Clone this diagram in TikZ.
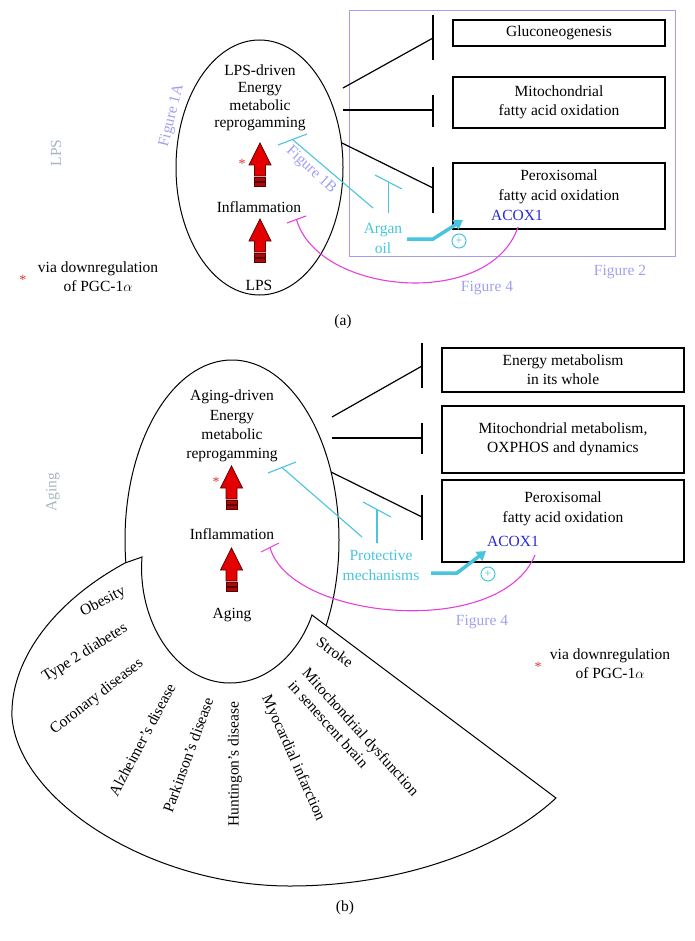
\documentclass[tikz,border=0pt]{standalone}
\usepackage{fontspec}
\setmainfont{Liberation Serif}
\usetikzlibrary{shapes.geometric,arrows.meta}
\definecolor{lav}{RGB}{160,160,238}
\definecolor{cyanc}{RGB}{72,196,222}
\definecolor{magc}{RGB}{228,64,222}
\definecolor{sideg}{RGB}{165,182,192}
\definecolor{acoxb}{RGB}{40,40,215}
\definecolor{arrred}{RGB}{228,0,0}
\definecolor{arrdark}{RGB}{90,0,0}
\definecolor{strred}{RGB}{170,10,10}
\definecolor{astred}{RGB}{225,50,50}
\tikzset{
 redarrow/.pic={
  \filldraw[fill=arrred, draw=arrdark, line width=0.7pt, line join=miter]
   (0,0) -- (11,22) -- (5.5,22) -- (5.5,33) -- (-5.5,33) -- (-5.5,22) -- (-11,22) -- cycle;
  \filldraw[fill=strred, draw=arrdark, line width=0.7pt] (-5.5,34.5) rectangle (5.5,38);
  \filldraw[fill=strred, draw=arrdark, line width=0.7pt] (-5.5,39.5) rectangle (5.5,43);
 }
}
\begin{document}
\begin{tikzpicture}[x=1pt,y=-1pt,
 txt/.style={font=\fontsize{15.5}{18}\selectfont, inner sep=0, align=center},
 boxn/.style={draw, line width=1.1pt, inner sep=0, align=center, font=\fontsize{15.5}{19}\selectfont},
 conn/.style={line width=1.2pt},
 barl/.style={line width=1.4pt},
 cyl/.style={cyanc, line width=1.1pt},
 magl/.style={magc, line width=1.1pt},
 thick arrow/.style={cyanc, line width=3.5pt, -{Triangle[length=9pt,width=11pt]}},
 plusc/.style={circle, draw=cyanc, line width=1pt, inner sep=0, minimum size=14pt, text=cyanc, font=\fontsize{12}{12}\selectfont},
 ast/.style={txt, text=astred, font=\fontsize{14}{14}\selectfont}
]
\useasboundingbox (0,0) rectangle (695,941);

% ================= PANEL (a) =================
\node[draw=lav, line width=1pt, minimum width=326pt, minimum height=245pt, inner sep=0] (frame2) at (512,133.5) {};

\node[draw, ellipse, line width=1pt, minimum width=167pt, minimum height=255pt, inner sep=0] (ellA) at (259.5,167.5) {};

\node[txt, font=\fontsize{15.5}{17.5}\selectfont] (lpsdrv) at (260,98) {LPS-driven\\Energy\\metabolic\\reprogamming};
\node[txt] (inflA) at (259,207) {Inflammation};
\node[txt] (lpsA) at (259,285) {LPS};
\pic (arA1) at (260,143) {redarrow};
\pic (arA2) at (260,219) {redarrow};
\node[ast] (astA1) at (242,164) {*};
\node[txt, text=lav, rotate=76] (fig1a) at (172,116) {Figure 1A};
\node[txt, text=lav, rotate=-43] (fig1b) at (311,170) {Figure 1B};
\node[txt, text=sideg, rotate=90] (lpsside) at (56,153) {LPS};
\node[txt, font=\fontsize{15.5}{19}\selectfont] (viaA) at (98,277) {via downregulation\\of PGC-1$\alpha$};
\node[ast] (astA2) at (23,280) {*};

% boxes
\node[boxn, minimum width=212pt, minimum height=26pt] (gluco) at (559,33) {Gluconeogenesis};
\node[boxn, minimum width=212pt, minimum height=51pt] (mitoA) at (559,102.5) {Mitochondrial\\fatty acid oxidation};
\node[boxn, minimum width=212pt, minimum height=66pt] (peroxA) at (559,196) {};
\node[txt, font=\fontsize{15.5}{20}\selectfont] (peroxAt) at (559,187) {Peroxisomal\\fatty acid oxidation};
\node[txt, text=acoxb] (acoxA) at (517,215) {ACOX1};

% inhibitors (black)
\coordinate (sA1) at (343,88);  \coordinate (mA1) at (433,38);
\coordinate (tA1) at (433,15);  \coordinate (uA1) at (433,60);
\coordinate (sA2) at (343,110); \coordinate (mA2) at (433,110);
\coordinate (tA2) at (433,95);  \coordinate (uA2) at (433,127);
\coordinate (sA3) at (342,143); \coordinate (mA3) at (433,188);
\coordinate (tA3) at (433,167); \coordinate (uA3) at (433,213);
\draw[conn] (sA1) -- (mA1); \draw[barl] (tA1) -- (uA1);
\draw[conn] (sA2) -- (mA2); \draw[barl] (tA2) -- (uA2);
\draw[conn] (sA3) -- (mA3); \draw[barl] (tA3) -- (uA3);

% cyan inhibitors
\coordinate (cbA1) at (278,145); \coordinate (cbA2) at (307,134);
\coordinate (cmA) at (292.5,139.5); \coordinate (ceA) at (373,208);
\draw[cyl] (cbA1) -- (cbA2);
\draw[cyl] (cmA) -- (ceA);
\coordinate (cdA1) at (375,175); \coordinate (cdA2) at (402,189);
\coordinate (cdmA) at (388.5,182); \coordinate (cdeA) at (388.5,213);
\draw[cyl] (cdA1) -- (cdA2);
\draw[cyl] (cdmA) -- (cdeA);
\node[txt, text=cyanc, font=\fontsize{15.5}{20}\selectfont] (argan) at (383,238) {Argan\\oil};

% thick cyan arrow
\coordinate (taA1) at (407,239); \coordinate (taA2) at (433,239); \coordinate (taA3) at (463,220);
\draw[thick arrow] (taA1) -- (taA2) -- (taA3);
\node[plusc] (plusA) at (459,241) {+};

% magenta inhibitor
\coordinate (mbA1) at (287,223); \coordinate (mbA2) at (306,216);
\coordinate (msA) at (296.5,219.5); \coordinate (meA) at (518,227);
\draw[magl] (mbA1) -- (mbA2);
\draw[magl] (msA) .. controls (318,295) and (490,310) .. (meA);

\node[txt, text=lav] (fig2) at (620,272) {Figure 2};
\node[txt, text=lav] (fig4a) at (487,288) {Figure 4};
\node[txt] (labA) at (343,322) {(a)};

% ================= PANEL (b) =================
\node[draw, ellipse, line width=1pt, minimum width=214pt, minimum height=360pt, inner sep=0] (ellB) at (232,540) {};

% sector of diseases
\draw[fill=white, line width=1pt, line join=miter] (125,563) .. controls (48,605) and (10,665) .. (12,717)
  .. controls (18,800) and (150,886) .. (290,886)
  .. controls (400,886) and (500,850) .. (556,798)
  -- (312,615) .. controls (300,650) and (270,683) .. (230,683)
  .. controls (175,683) and (137,620) .. (142,557) -- cycle;

\node[txt, rotate=27] (obes) at (103,602) {Obesity};
\node[txt, rotate=32] (t2d) at (85,653) {Type 2 diabetes};
\node[txt, rotate=38] (coro) at (97,697) {Coronary diseases};
\node[txt, rotate=62] (alz) at (142,740) {Alzheimer's disease};
\node[txt, rotate=70] (park) at (188,755) {Parkinson's disease};
\node[txt, rotate=90] (hunt) at (235,764) {Huntingon's disease};
\node[txt, rotate=-66] (myo) at (293,758) {Myocardial infarction};
\node[txt, rotate=-48, align=left, font=\fontsize{15.5}{19}\selectfont] (mitodys) at (354,738) {Mitochondrial dysfunction\\in senescent brain};
\node[txt, rotate=-35] (stroke) at (335,652) {Stroke};

\node[txt, font=\fontsize{15.5}{19.3}\selectfont] (agedrv) at (232,426) {Aging-driven\\Energy\\metabolic\\reprogamming};
\node[txt] (inflB) at (232,534) {Inflammation};
\node[txt] (agingB) at (232,615) {Aging};
\pic (arB1) at (231.5,466) {redarrow};
\pic (arB2) at (231.5,548) {redarrow};
\node[ast] (astB1) at (216,482) {*};
\node[txt, text=sideg, rotate=90] (agingside) at (53,492) {Aging};

% boxes
\node[boxn, minimum width=242pt, minimum height=44pt] (energyB) at (563,370) {Energy metabolism\\in its whole};
\node[boxn, minimum width=242pt, minimum height=67pt] (mitoB) at (563,439.5) {Mitochondrial metabolism,\\OXPHOS and dynamics};
\node[boxn, minimum width=242pt, minimum height=82pt] (peroxB) at (563,521) {};
\node[txt, font=\fontsize{15.5}{19.5}\selectfont] (peroxBt) at (563,509) {Peroxisomal\\fatty acid oxidation};
\node[txt, text=acoxb] (acoxB) at (513,541) {ACOX1};

% inhibitors (black)
\coordinate (sB1) at (332,417); \coordinate (mB1) at (422,366);
\coordinate (tB1) at (422,343); \coordinate (uB1) at (422,388);
\coordinate (sB2) at (332,438); \coordinate (mB2) at (422,438);
\coordinate (tB2) at (422,423); \coordinate (uB2) at (422,454);
\coordinate (sB3) at (331,472); \coordinate (mB3) at (422,517);
\coordinate (tB3) at (422,495); \coordinate (uB3) at (422,540);
\draw[conn] (sB1) -- (mB1); \draw[barl] (tB1) -- (uB1);
\draw[conn] (sB2) -- (mB2); \draw[barl] (tB2) -- (uB2);
\draw[conn] (sB3) -- (mB3); \draw[barl] (tB3) -- (uB3);

% cyan inhibitors
\coordinate (cbB1) at (268,473); \coordinate (cbB2) at (296,462);
\coordinate (cmB) at (282,467.5); \coordinate (ceB) at (362,537);
\draw[cyl] (cbB1) -- (cbB2);
\draw[cyl] (cmB) -- (ceB);
\coordinate (cdB1) at (363,502); \coordinate (cdB2) at (391,517);
\coordinate (cdmB) at (377,509.5); \coordinate (cdeB) at (377,543);
\draw[cyl] (cdB1) -- (cdB2);
\draw[cyl] (cdmB) -- (cdeB);
\node[txt, text=cyanc, font=\fontsize{15.5}{20}\selectfont] (protect) at (381,565) {Protective\\mechanisms};

% thick cyan arrow
\coordinate (taB1) at (431,573); \coordinate (taB2) at (457,573); \coordinate (taB3) at (486,551);
\draw[thick arrow] (taB1) -- (taB2) -- (taB3);
\node[plusc] (plusB) at (488,574) {+};

% magenta inhibitor
\coordinate (mbB1) at (261,552); \coordinate (mbB2) at (279,543);
\coordinate (msB) at (270,547.5); \coordinate (meB) at (535,555);
\draw[magl] (mbB1) -- (mbB2);
\draw[magl] (msB) .. controls (290,620) and (500,640) .. (meB);

\node[txt, text=lav] (fig4b) at (482,622) {Figure 4};
\node[txt, font=\fontsize{15.5}{19}\selectfont] (viaB) at (610,664) {via downregulation\\of PGC-1$\alpha$};
\node[ast] (astB2) at (538,667) {*};
\node[txt] (labB) at (345,908) {(b)};
\end{tikzpicture}
\end{document}
